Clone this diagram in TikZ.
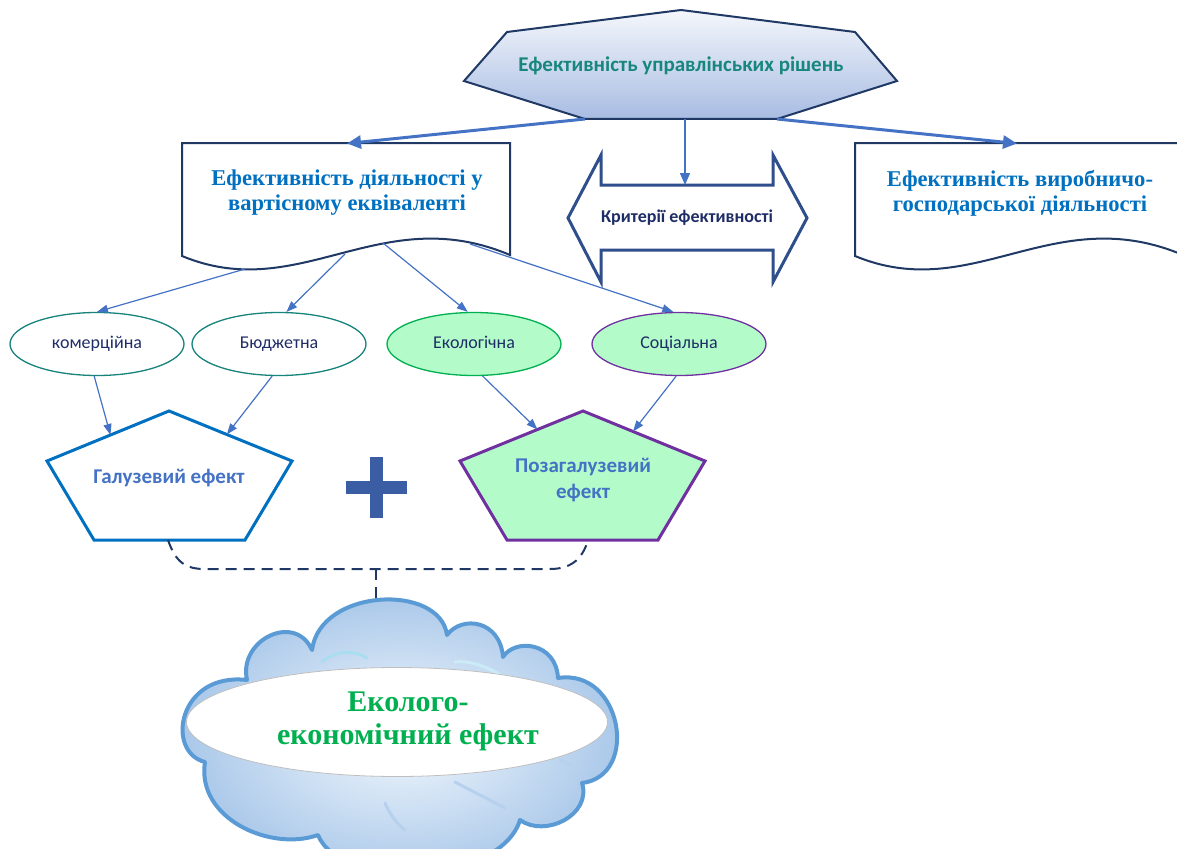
\documentclass[tikz,border=0pt]{standalone}
\usepackage{fontspec}
\setmainfont{Liberation Serif}
\newfontfamily\calibri{Carlito}
\usetikzlibrary{arrows.meta,shapes.geometric,calc}

\definecolor{navy}{HTML}{1F3864}
\definecolor{hexTop}{HTML}{F4F7FC}
\definecolor{hexBot}{HTML}{A8BCE2}
\definecolor{tealtext}{HTML}{17877B}
\definecolor{docblue}{HTML}{0070C0}
\definecolor{linkblue}{HTML}{4472C4}
\definecolor{arrowframe}{HTML}{2F4F8C}
\definecolor{mint}{HTML}{B3FCCA}
\definecolor{ovalteal}{HTML}{16847C}
\definecolor{ovalgreen}{HTML}{00B050}
\definecolor{violet}{HTML}{7030A0}
\definecolor{labelnavy}{HTML}{1F2D66}
\definecolor{plusblue}{HTML}{3A5DA4}
\definecolor{cloudline}{HTML}{5B9BD5}
\definecolor{cloudin}{HTML}{F2F8FD}
\definecolor{cloudout}{HTML}{A4C4E8}
\definecolor{cloudhi}{HTML}{A9DDF0}
\definecolor{ecogreen}{HTML}{00B050}

\tikzset{
  thickarrow/.style={linkblue, line width=3, -{Triangle[length=14, width=13]}},
  thinlink/.style={linkblue, line width=1.2, -{Triangle[length=11, width=8]}},
  docframe/.style={navy, line width=2, fill=white},
  ovalbase/.style={ellipse, minimum width=174, minimum height=63, inner sep=0,
    line width=1.3, text=labelnavy, text height=13, text depth=4,
    font=\calibri\fontsize{18}{20}\selectfont},
  ovalwhite/.style={ovalbase, draw=ovalteal, fill=white},
  ovalmint/.style={ovalbase, fill=mint},
  pentlabel/.style={text=linkblue, align=center, font=\calibri\bfseries\fontsize{21}{26}\selectfont},
  doclabel/.style={text=docblue, align=center, font=\bfseries\fontsize{22.6}{25}\selectfont},
  linkdash/.style={navy, line width=2, dash pattern=on 11 off 7}
}

\begin{document}
\begin{tikzpicture}[x=1pt, y=-1pt]
\useasboundingbox (0,0) rectangle (1177,848);
\clip (0,0) rectangle (1177,848);

% ---------- top hexagon ----------
\coordinate (hT) at (681,10);
\coordinate (hUL) at (507,32);
\coordinate (hL) at (464,81);
\coordinate (hBL) at (585,119);
\coordinate (hBR) at (777,119);
\coordinate (hR) at (897,81);
\coordinate (hUR) at (855,32);
\coordinate (hMid) at (685,119);
\draw[navy, line width=2, top color=hexTop, bottom color=hexBot]
  (hT) -- (hUR) -- (hR) -- (hBR) -- (hBL) -- (hL) -- (hUL) -- cycle;
\node[text=tealtext, font=\calibri\bfseries\fontsize{21}{24}\selectfont] (hex) at (681,66)
  {Ефективність управлінських рішень};

% ---------- document shapes ----------
\begin{scope}[shift={(182,143)}]
  \draw[docframe] (0,0) -- (328,0) -- (328,112)
    .. controls (198,57) and (118,162) .. (0,113) -- cycle;
  \coordinate (docL) at (165,0);
  \coordinate (wA) at (63,126);
  \coordinate (wB) at (163,111);
  \coordinate (wC) at (201,100);
  \coordinate (wD) at (288,101);
\end{scope}
\node[doclabel] (cost) at (347,193) {Ефективність діяльності у\\вартісному еквіваленті};

\begin{scope}[shift={(855,143)}]
  \draw[docframe] (0,0) -- (328,0) -- (328,112)
    .. controls (198,57) and (118,162) .. (0,113) -- cycle;
  \coordinate (docR) at (162,0);
\end{scope}
\node[doclabel] (prod) at (1020,193) {Ефективність виробничо-\\господарської діяльності};

% ---------- double arrow ----------
\draw[arrowframe, line width=3, fill=white, line join=miter]
  (568,218) -- (601,155) -- (601,185) -- (773,185) -- (773,155) -- (807,218)
  -- (773,282) -- (773,250) -- (601,250) -- (601,282) -- cycle;
\coordinate (critTop) at (685,185);
\node[text=labelnavy, font=\calibri\bfseries\fontsize{18}{20}\selectfont] (crit) at (687,218)
  {Критерії ефективності};

% arrows leaving the hexagon
\draw[thickarrow] (hBL) -- ($(docL)+(0,0.5)$);
\draw[thickarrow] (hBR) -- ($(docR)+(0,0.5)$);
\draw[linkblue, line width=1.5, -{Triangle[length=12, width=10]}] (hMid) -- (critTop);

% ---------- ovals ----------
\node[ovalwhite] (kom) at (97,344) {комерційна};
\node[ovalwhite] (bud) at (279,344) {Бюджетна};
\node[ovalmint, draw=ovalgreen] (eco) at (474,344) {Екологічна};
\node[ovalmint, draw=violet] (soc) at (679,344) {Соціальна};

\draw[thinlink] (wA) -- (kom.north);
\draw[thinlink] (wB) -- (bud.77);
\draw[thinlink] (wC) -- (eco.101);
\draw[thinlink] (wD) -- (soc.100);

% ---------- pentagons ----------
\coordinate (gT) at (169,411);
\coordinate (gL) at (47,461);
\coordinate (gR) at (292,461);
\coordinate (gBL) at (94,540);
\coordinate (gBR) at (245,540);
\draw[docblue, line width=3, fill=white, line join=miter]
  (gT) -- (gR) -- (gBR) -- (gBL) -- (gL) -- cycle;
\node[pentlabel] (gal) at (169,478) {Галузевий ефект};

\coordinate (pT) at (583,411);
\coordinate (pL) at (460,461);
\coordinate (pR) at (705,461);
\coordinate (pBL) at (507,540);
\coordinate (pBR) at (658,540);
\draw[violet, line width=3, fill=mint, line join=miter]
  (pT) -- (pR) -- (pBR) -- (pBL) -- (pL) -- cycle;
\node[pentlabel] (poz) at (583,480) {Позагалузевий\\ефект};

\draw[thinlink] (kom.265) -- ($(gL)!0.52!(gT)$);
\draw[thinlink] (bud.258) -- ($(gT)!0.47!(gR)$);
\draw[thinlink] (eco.285) -- ($(pL)!0.63!(pT)$);
\draw[thinlink] (soc.265) -- ($(pT)!0.41!(pR)$);

% plus sign
\fill[plusblue] (346,481) rectangle (407,494);
\fill[plusblue] (370,457) rectangle (383,518);
\node[inner sep=0, minimum size=0] (plus) at (376,487) {};

% dashed bracket joining both effects
\coordinate (gBot) at (168,540);
\coordinate (pBot) at (588,540);
\coordinate (brMid) at (376,569);
\coordinate (cloudTop) at (376,603);
\draw[linkdash] (gBot) .. controls (176,563) and (186,569) .. (205,569)
  -- (550,569) .. controls (569,569) and (582,561) .. (pBot);
\draw[linkdash] (brMid) -- (cloudTop);

% ---------- cloud ----------
\path[inner color=cloudin, outer color=cloudout]
  (205,762) .. controls (165,752) and (178,672) .. (247,680)
  .. controls (238,640) and (295,612) .. (312,650)
  .. controls (320,588) and (440,583) .. (447,635)
  .. controls (462,615) and (500,620) .. (503,657)
  .. controls (515,638) and (556,642) .. (558,678)
  .. controls (622,668) and (640,776) .. (582,783)
  .. controls (592,815) and (545,838) .. (520,820)
  .. controls (500,885) and (340,890) .. (318,835)
  .. controls (270,852) and (196,818) .. (205,762) -- cycle;
% inner shading strokes of the puffs
\draw[cloudhi, line width=3, line cap=round] (322,662) .. controls (335,650) and (355,650) .. (367,658);
\draw[cloudhi!60!white, line width=3, line cap=round] (455,662) .. controls (470,660) and (490,668) .. (500,675);
\draw[cloudout!80!white, line width=3, line cap=round] (385,803) .. controls (390,815) and (398,825) .. (405,830);
\draw[cloudout!80!white, line width=3, line cap=round] (455,782) .. controls (470,790) and (490,800) .. (505,808);
\draw[cloudout!80!white, line width=3, line cap=round] (560,760) .. controls (568,763) and (575,767) .. (580,770);
\draw[cloudline, line width=4, line join=round]
  (205,762) .. controls (165,752) and (178,672) .. (247,680)
  .. controls (238,640) and (295,612) .. (312,650)
  .. controls (320,588) and (440,583) .. (447,635)
  .. controls (462,615) and (500,620) .. (503,657)
  .. controls (515,638) and (556,642) .. (558,678)
  .. controls (622,668) and (640,776) .. (582,783)
  .. controls (592,815) and (545,838) .. (520,820)
  .. controls (500,885) and (340,890) .. (318,835)
  .. controls (270,852) and (196,818) .. (205,762) -- cycle;

\node[ellipse, draw=black!25, line width=0.8, fill=white, minimum width=421, minimum height=109,
  inner sep=0] (ecoef) at (397,722) {};
\node[text=ecogreen, align=center, font=\bfseries\fontsize{30}{33}\selectfont] (ecotext) at (408,721)
  {Еколого-\\економічний ефект};

\end{tikzpicture}
\end{document}
